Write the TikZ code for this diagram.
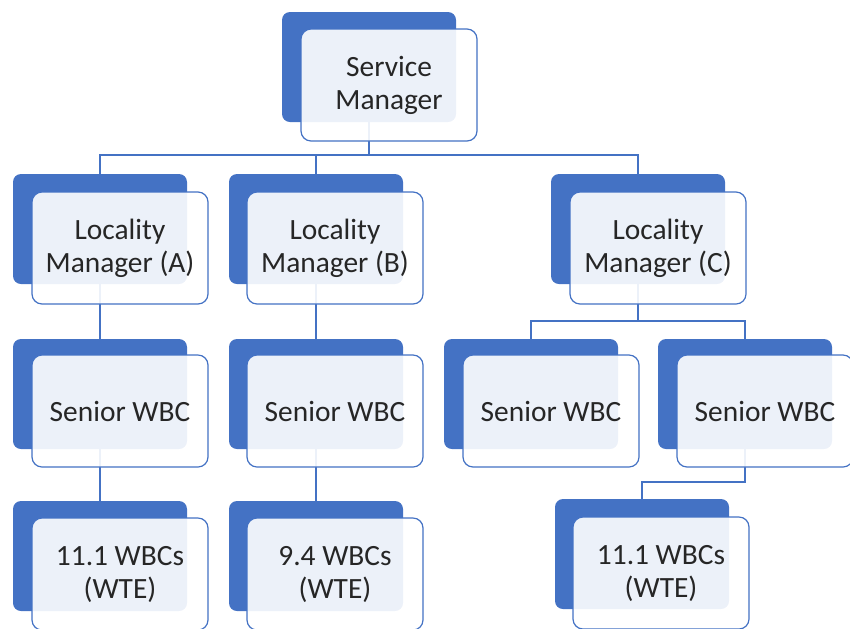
\documentclass[tikz,border=0pt]{standalone}
\usepackage{fontspec}
\setmainfont{Carlito}
\usepackage{xcolor}
\definecolor{wbblue}{HTML}{4472C4}

\tikzset{
    backbox/.style={rectangle, rounded corners=4pt, fill=wbblue, inner sep=0pt,
        minimum width=87pt, minimum height=55pt},
    frontbox/.style={rectangle, rounded corners=5pt, draw=wbblue, line width=0.6pt,
        fill=white, fill opacity=0.9, text opacity=1, text=black!85, inner sep=0pt,
        minimum width=88pt, minimum height=56pt, align=center,
        font=\fontsize{14.7pt}{16.5pt}\selectfont},
    link/.style={draw=wbblue, line width=0.75pt}
}

\begin{document}
\begin{tikzpicture}[x=0.5pt, y=-0.5pt]
    \clip (0,0) rectangle (850,628);

    % Back boxes
    \node[backbox] (smB) at (369,67) {};
    \node[backbox] (laAB) at (100,229) {};
    \node[backbox] (laBB) at (316,229) {};
    \node[backbox] (laCB) at (638,229) {};
    \node[backbox] (swAB) at (100,394) {};
    \node[backbox] (swBB) at (316,394) {};
    \node[backbox] (swCaB) at (531,394) {};
    \node[backbox] (swCbB) at (745,394) {};
    \node[backbox] (wAB) at (100,556) {};
    \node[backbox] (wBB) at (316,556) {};
    \node[backbox] (wCB) at (642,554) {};

    % Buses
    \coordinate (bus1) at (0,155);
    \coordinate (bus2) at (0,321);
    \coordinate (bus3) at (0,482);

    % Service Manager to Locality Managers
    \draw[link] (smB.south) |- (laAB.north |- bus1) -- (laAB.north);
    \draw[link] (smB.south) |- (laBB.north |- bus1) -- (laBB.north);
    \draw[link] (smB.south) |- (laCB.north |- bus1) -- (laCB.north);

    % Locality Managers to Senior WBCs
    \draw[link] (laAB.south) -- (swAB.north);
    \draw[link] (laBB.south) -- (swBB.north);
    \draw[link] (laCB.south) |- (swCaB.north |- bus2) -- (swCaB.north);
    \draw[link] (laCB.south) |- (swCbB.north |- bus2) -- (swCbB.north);

    % Senior WBCs to WBCs
    \draw[link] (swAB.south) -- (wAB.north);
    \draw[link] (swBB.south) -- (wBB.north);
    \draw[link] (swCbB.south) |- (wCB.north |- bus3) -- (wCB.north);

    % Front boxes
    \node[frontbox] (sm) at (389,85) {Service\\Manager};
    \node[frontbox] (laA) at (120,248) {Locality\\Manager (A)};
    \node[frontbox] (laB) at (335,248) {Locality\\Manager (B)};
    \node[frontbox] (laC) at (658,248) {Locality\\Manager (C)};
    \node[frontbox] (swA) at (120,411) {Senior WBC};
    \node[frontbox] (swB) at (335,411) {Senior WBC};
    \node[frontbox] (swCa) at (551,411) {Senior WBC};
    \node[frontbox] (swCb) at (765,411) {Senior WBC};
    \node[frontbox] (wA) at (120,574) {11.1 WBCs\\(WTE)};
    \node[frontbox] (wB) at (335,574) {9.4 WBCs\\(WTE)};
    \node[frontbox] (wC) at (661,573) {11.1 WBCs\\(WTE)};
\end{tikzpicture}
\end{document}
